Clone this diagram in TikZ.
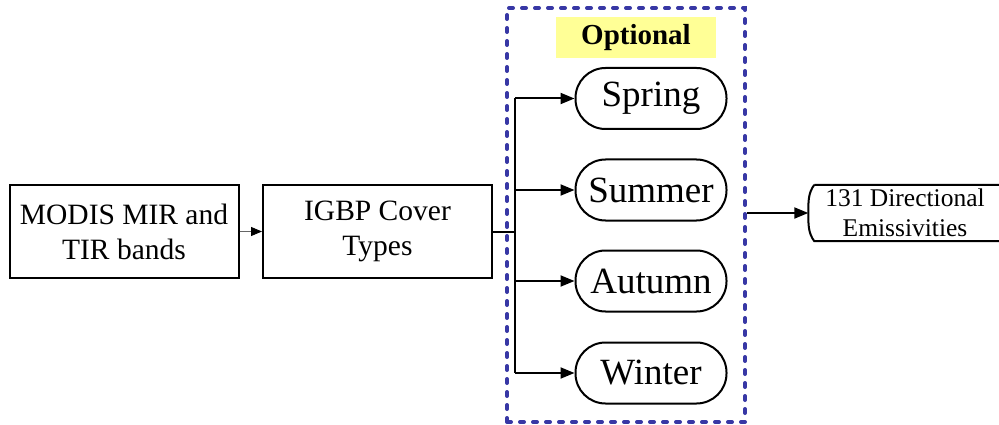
\documentclass[tikz,border=0pt]{standalone}
\usepackage{fontspec}
\setmainfont{Liberation Serif}
\usetikzlibrary{arrows.meta}
\definecolor{dashblue}{RGB}{55,55,165}
\definecolor{optyellow}{RGB}{255,255,150}
\tikzset{
  box/.style={draw=black, line width=2pt, minimum width=229pt, minimum height=92pt, inner sep=0pt, align=center, font=\fontsize{29.5}{35}\selectfont},
  season/.style={draw=black, line width=2pt, rounded corners=30pt, minimum width=151pt, minimum height=61pt, inner sep=0pt, font=\fontsize{37}{40}\selectfont},
  conn/.style={line width=2pt, -{Triangle[length=14pt,width=11pt]}},
  plain/.style={line width=2pt},
}
\begin{document}
\begin{tikzpicture}[x=1pt,y=-1pt]
\useasboundingbox (0,0) rectangle (999,425);
% dashed optional frame
\node[draw=dashblue, line width=4pt, dash pattern=on 4pt off 9pt, line cap=round, minimum width=238pt, minimum height=414pt, inner sep=0pt] (frame) at (626,215) {};
\node[box] (modis) at (124,231.5) {MODIS MIR and\\TIR bands};
\node[box] (igbp) at (377.5,231.5) {IGBP Cover\\Types};
\node[fill=optyellow, minimum width=160pt, minimum height=41pt, inner sep=0pt, font=\fontsize{29}{32}\selectfont\bfseries] (opt) at (636,37.5) {Optional};
\node[season] (spring) at (651,98.5) {Spring};
\node[season] (summer) at (651,190) {Summer};
\node[season] (autumn) at (651,281) {Autumn};
\node[season] (winter) at (651,373) {Winter};
% output
\node[minimum width=193pt, minimum height=56pt, inner sep=0pt, align=center, font=\fontsize{25.5}{30}\selectfont] (out) at (905,213) {131 Directional\\Emissivities};
\draw[line width=2pt] (out.north west)++(6,0) -- ++(200,0)
  (out.north west)++(6,0) .. controls +(-6,8) and +(0,-12) .. (out.west)
  .. controls +(0,12) and +(-6,-8) .. ([xshift=6pt]out.south west) -- ++(200,0);
% connectors
\coordinate (j) at (515,231.5);
\draw[line width=1pt, draw=black!60, -{Triangle[length=11pt,width=9pt,fill=black,color=black]}] (modis.east) -- (igbp.west);
\draw[plain] (igbp.east) -- (j);
\draw[plain] (j |- spring.west) -- (j |- winter.west);
\draw[conn] (j |- spring.west) -- (spring.west);
\draw[conn] (j |- summer.west) -- (summer.west);
\draw[conn] (j |- autumn.west) -- (autumn.west);
\draw[conn] (j |- winter.west) -- (winter.west);
\draw[conn] (frame.east |- out.west) -- (out.west);
\end{tikzpicture}
\end{document}
